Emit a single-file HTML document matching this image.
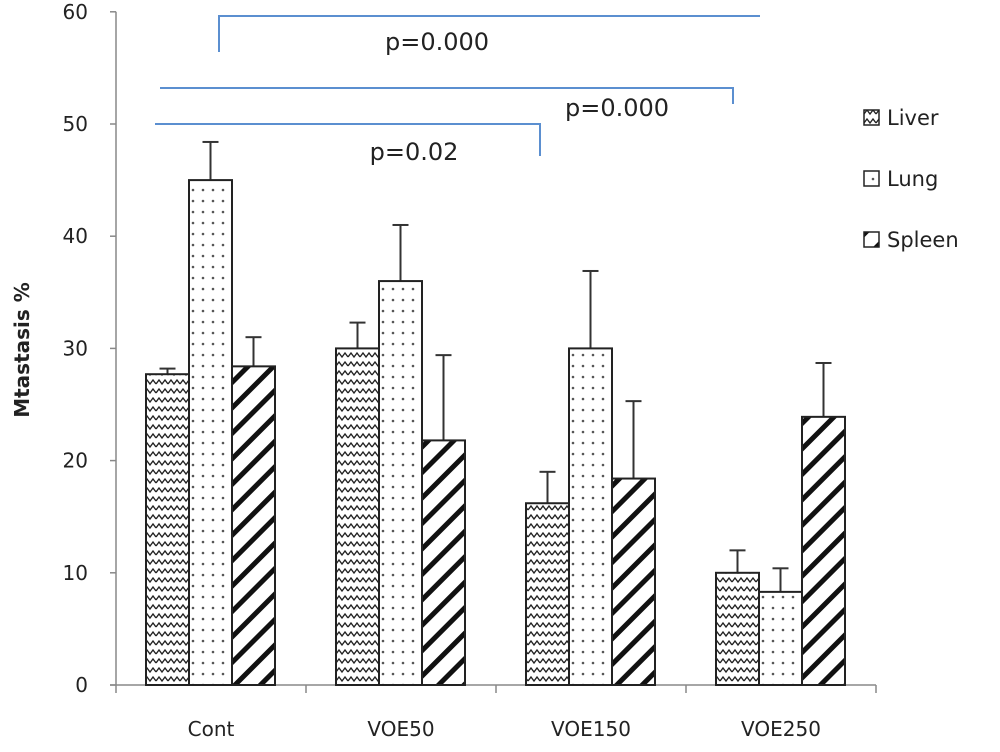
<!DOCTYPE html>
<html><head><meta charset="utf-8"><style>
body{margin:0;background:#fff;}
svg text{font-family:"DejaVu Sans","Liberation Sans",sans-serif;fill:#222;}
</style></head><body>
<svg id="chart" width="1000" height="747" viewBox="0 0 1000 747" xmlns="http://www.w3.org/2000/svg">
<defs>
<pattern id="pZig" patternUnits="userSpaceOnUse" width="12" height="9"><rect width="12" height="9" fill="#fff"/><path d="M0 6 L3 2 L6 6 L9 2 L12 6" fill="none" stroke="#222" stroke-width="1.4"/></pattern>
<pattern id="pDot" patternUnits="userSpaceOnUse" width="10" height="11"><rect width="10" height="11" fill="#fff"/><circle cx="3" cy="3" r="1.3" fill="#555"/></pattern>
<pattern id="pDiag" patternUnits="userSpaceOnUse" width="18" height="18" patternTransform="rotate(45)"><rect width="18" height="18" fill="#fff"/><rect x="0" y="0" width="5" height="18" fill="#111"/></pattern>
</defs>
<g id="plot"></g>
</svg>
<script>
const categories=["Cont","VOE50","VOE150","VOE250"];
const seriesNames=["Liver","Lung","Spleen"];
const liverVals=[27.7,30,16.2,10];
const lungVals=[45,36,30,8.3];
const spleenVals=[28.4,21.8,18.4,23.9];
const liverErr=[0.5,2.3,2.8,2];
const lungErr=[3.4,5,6.9,2.1];
const spleenErr=[2.6,7.6,6.9,4.8];
const yTicks=[0,10,20,30,40,50,60];

const NS="http://www.w3.org/2000/svg";
const g=document.getElementById('plot');
const x0=116,band=190,y0=685,pxPerUnit=11.22;
const y=v=>y0-v*pxPerUnit;
const xBand=i=>x0+band*i;
const barW=43;
function mk(tag,attrs,parent){const e=document.createElementNS(NS,tag);for(const k in attrs)e.setAttribute(k,attrs[k]);(parent||g).appendChild(e);return e;}
const fills=["url(#pZig)","url(#pDot)","url(#pDiag)"];
const vals=[liverVals,lungVals,spleenVals];
const errs=[liverErr,lungErr,spleenErr];

// axes
let a=mk('line',{x1:x0,y1:y(0),x2:x0,y2:y(60),stroke:'#888','stroke-width':1.5});


a=mk('line',{x1:x0-6,y1:y0,x2:x0+band*4,y2:y0,stroke:'#888','stroke-width':1.5});


yTicks.forEach(t=>{
 const l=mk('line',{x1:x0-6,y1:y(t),x2:x0,y2:y(t),stroke:'#888','stroke-width':1.5});
 
 
 const tx=mk('text',{x:x0-28,y:y(t)+7,'text-anchor':'end','font-size':20});
 tx.textContent=t;
 
 
});
for(let i=0;i<=categories.length;i++){
 const l=mk('line',{x1:xBand(i),y1:y0,x2:xBand(i),y2:y0+8,stroke:'#888','stroke-width':1.5});
 
 
}
categories.forEach((c,i)=>{
 const tx=mk('text',{x:xBand(i)+band/2,y:736,'text-anchor':'middle','font-size':20});
 tx.textContent=c;
 
 
 vals.forEach((sv,s)=>{
  const bx=xBand(i)+30+s*barW, v=sv[i], e=errs[s][i];
  const el=mk('line',{x1:bx+barW/2,y1:y(v),x2:bx+barW/2,y2:y(v+e),stroke:'#333','stroke-width':2});
  
  
  const ec=mk('line',{x1:bx+barW/2-8,y1:y(v+e),x2:bx+barW/2+8,y2:y(v+e),stroke:'#333','stroke-width':2});
  
  
  const r=mk('rect',{x:bx,y:y(v),width:barW,height:y0-y(v),fill:fills[s],stroke:'#222','stroke-width':2});
  
  
 });
});
// y title
const yt=mk('text',{x:0,y:0,transform:'translate(29,350) rotate(-90)','text-anchor':'middle','font-size':20,'font-weight':'bold'});
yt.textContent='Mtastasis %';


// brackets
const br=[["M219 52 L219 16 L760 16","p=0.000",437,50],["M160 88 L733 88 L733 104","p=0.000",617,116],["M155 124 L540 124 L540 156","p=0.02",414,160]];
br.forEach(b=>{
 const p=mk('path',{d:b[0],fill:'none',stroke:'#5b8fd0','stroke-width':2});
 
 
 const t=mk('text',{x:b[2],y:b[3],'text-anchor':'middle','font-size':24});
 t.textContent=b[1];
 
 
});
// legend
seriesNames.forEach((n,s)=>{
 const ly=110+s*61;
 const r=mk('rect',{x:864,y:ly,width:15,height:15,fill:fills[s],stroke:'#222','stroke-width':1.5});
 
 
 const t=mk('text',{x:887,y:ly+15,'font-size':21});
 t.textContent=n;
 
 
});
</script>
</body></html>
